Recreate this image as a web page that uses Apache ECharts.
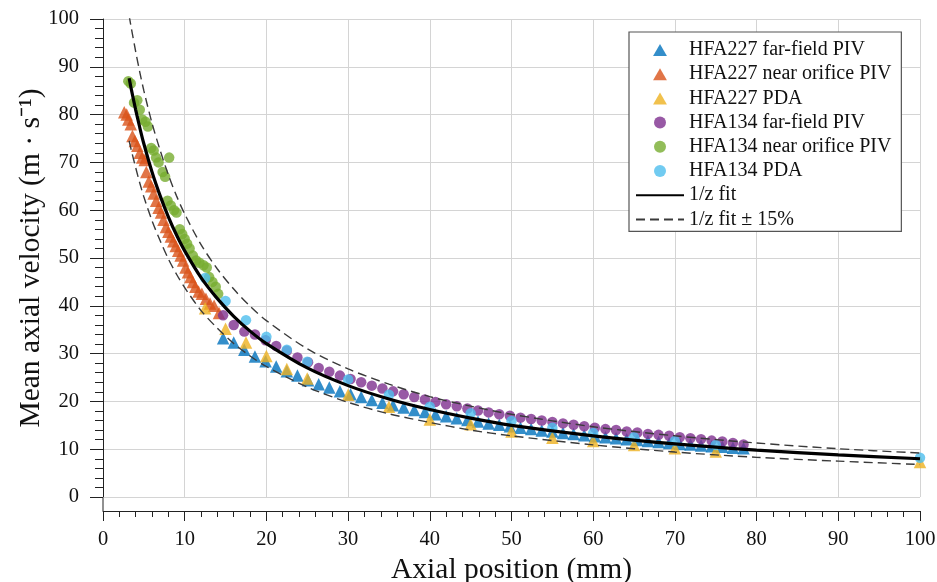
<!DOCTYPE html>
<html>
<head>
<meta charset="utf-8">
<script src="https://cdn.jsdelivr.net/npm/echarts@6/dist/echarts.min.js"></script>
<style>html,body{margin:0;padding:0;background:#fff}#c{width:937px;height:582px}</style>
</head>
<body>
<div id="c"></div>
<script>
// ---- data ----
const xTicks = [0,10,20,30,40,50,60,70,80,90,100];
const yTicks = [0,10,20,30,40,50,60,70,80,90,100];

const seriesNames = ['HFA227 far-field PIV','HFA227 near orifice PIV','HFA227 PDA',
  'HFA134 far-field PIV','HFA134 near orifice PIV','HFA134 PDA','1/z fit','1/z fit \u00b1 15%'];

const hfa227Far = [[14.7,33.2],[16.0,32.3],[17.3,30.8],[18.6,29.4],[19.9,28.4],[21.2,27.3],[22.5,26.3],[23.8,25.4],[25.1,24.4],[26.4,23.6],[27.7,22.9],[29.0,22.1],[30.3,21.5],[31.6,20.9],[32.9,20.3],[34.2,19.7],[35.5,19.2],[36.8,18.7],[38.1,18.2],[39.4,17.8],[40.7,17.3],[42.0,16.9],[43.3,16.5],[44.6,16.1],[45.9,15.8],[47.2,15.4],[48.5,15.1],[49.8,14.8],[51.1,14.5],[52.4,14.2],[53.7,13.9],[55.0,13.7],[56.3,13.4],[57.6,13.2],[58.9,12.9],[60.2,12.7],[61.5,12.5],[62.8,12.3],[64.1,12.1],[65.4,11.9],[66.7,11.7],[68.0,11.5],[69.3,11.3],[70.6,11.1],[71.9,11.0],[73.2,10.8],[74.5,10.6],[75.8,10.5],[77.1,10.3],[78.4,10.2]];

const hfa227Near = [[2.6,80.5],[2.9,80],[3.1,79],[3.4,78],[3.6,75.5],[3.9,74.5],[4.2,73.5],[4.5,72],[4.8,71],[5.1,70.5],[5.3,68],[5.6,66],[5.9,65],[6.2,63.5],[6.5,62],[6.8,60.5],[7.1,59.5],[7.4,58],[7.7,56.5],[8.0,55.5],[8.3,54.5],[8.6,53.5],[8.9,52.5],[9.2,51.5],[9.5,50.5],[9.8,49.5],[10.1,48],[10.4,47],[10.7,46],[11.0,45],[11.3,44],[11.7,43],[12.1,42.5],[12.6,41.5],[13.1,40.5],[13.6,40],[14.2,38.5]];

const hfa227Pda = [[12.5,39.5],[15,35.2],[17.5,32.3],[20,29.5],[22.5,26.8],[25,24.8],[30,21.4],[35,18.9],[40,16.2],[45,15.2],[50,13.7],[55,12.4],[60,11.7],[65,10.9],[70,10.2],[75,9.5],[100,7.3]];

const hfa134Far = [[14.7,38.0],[16.0,36.0],[17.3,34.6],[18.6,34.0],[19.9,32.8],[21.2,31.6],[22.5,30.6],[23.8,29.2],[25.1,28.2],[26.4,27.0],[27.7,26.2],[29.0,25.4],[30.3,24.7],[31.6,24.0],[32.9,23.3],[34.2,22.7],[35.5,22.1],[36.8,21.5],[38.1,20.9],[39.4,20.4],[40.7,19.9],[42.0,19.4],[43.3,19.0],[44.6,18.5],[45.9,18.1],[47.2,17.7],[48.5,17.3],[49.8,17.0],[51.1,16.6],[52.4,16.3],[53.7,16.0],[55.0,15.7],[56.3,15.4],[57.6,15.1],[58.9,14.8],[60.2,14.5],[61.5,14.2],[62.8,14.0],[64.1,13.7],[65.4,13.5],[66.7,13.2],[68.0,13.0],[69.3,12.8],[70.6,12.5],[71.9,12.3],[73.2,12.1],[74.5,11.8],[75.8,11.6],[77.1,11.3],[78.4,11.0]];

const hfa134Near = [[3.1,87],[3.4,86.5],[3.8,82.5],[4.2,83],[4.5,81],[4.8,79],[5.2,78.5],[5.5,77.5],[5.9,73],[6.2,72.5],[6.5,71],[6.8,70],[7.3,68],[7.6,67],[8.1,71],[7.9,62],[8.3,61],[8.7,60],[9.0,59.5],[9.4,56],[9.7,55],[10.0,54],[10.3,53],[10.6,52],[11.0,50.5],[11.4,49.5],[11.8,49],[12.3,48.5],[12.7,48],[13.0,46],[13.4,45],[13.8,44],[14.1,42.5]];

const hfa134Pda = [[12.5,45.8],[15,41.0],[17.5,37.0],[20,33.5],[22.5,30.8],[25,28.3],[30,24.6],[35,21.4],[40,18.9],[45,17.5],[50,15.9],[55,14.5],[60,13.4],[65,12.5],[70,11.7],[75,10.9],[100,8.2]];

const fitZ = [3.2,3.5,4,4.5,5,6,7,8,9,10,12,14,16,18,20,25,30,35,40,45,50,60,70,80,90,100];
const fitV = [87.6,85.0,81.0,77.3,73.9,68.0,63.0,58.6,54.8,51.5,45.9,41.5,37.8,34.7,32.1,27.0,23.3,20.5,18.3,16.5,15.0,12.8,11.1,9.8,8.8,8.0];
const upperV = [100.7,97.8,93.2,88.9,85.0,78.2,72.5,67.4,63.0,59.2,52.8,47.7,43.5,39.9,36.9,31.0,26.8,23.6,21.0,19.0,17.3,14.7,12.8,11.3,10.1,9.2];
const lowerV = [74.5,72.3,68.9,65.7,62.8,57.8,53.6,49.8,46.6,43.8,39.0,35.3,32.1,29.5,27.3,23.0,19.8,17.4,15.6,14.0,12.8,10.9,9.4,8.3,7.5,6.8];

// ---- chart ----
const FONT = 'Liberation Serif';
const colors = ['#0072BD','#D95319','#EDB120','#7E2F8E','#77AC30','#4DBEEE'];
const TRI = 'path://M6,0L12,10.4L0,10.4Z';
const zip = (a,b) => a.map((z,i)=>[z,b[i]]);

function scatter(name, data, color, symbol, size){
  return {name, type:'scatter', data, symbol, symbolSize:size,
    itemStyle:{color}, z:2, emphasis:{disabled:true}};
}

const legendData = seriesNames.map((n,i) => {
  if (i < 3) return {name:n, icon:TRI};
  if (i < 6) return {name:n, icon:'circle'};
  return {name:n, itemStyle:{color:'rgba(0,0,0,0)', borderWidth:0, opacity:0}};
});

const chart = echarts.init(document.getElementById('c'), null, {renderer:'canvas'});
chart.setOption({
  animation:false,
  backgroundColor:'#fff',
  grid:{left:103, right:17, top:19, bottom:85, containLabel:false, outerBoundsMode:'none'},
  xAxis:{type:'value', min:0, max:100, interval:10, offset:14,
    name:'Axial position (mm)', nameLocation:'middle', nameGap:44, nameMoveOverlap:false,
    nameTextStyle:{fontFamily:FONT, fontSize:29.5, color:'#111'},
    axisLine:{show:true, onZero:false, lineStyle:{color:'#222', width:1}},
    axisTick:{show:true, inside:false, length:10, lineStyle:{color:'#222'}},
    minorTick:{show:true, splitNumber:5, length:6, lineStyle:{color:'#222'}},
    axisLabel:{fontFamily:FONT, fontSize:20.5, color:'#111', margin:18},
    splitLine:{show:true, lineStyle:{color:'#d4d4d4', width:1}}
  },
  yAxis:{type:'value', min:0, max:100, interval:10,
    name:'Mean axial velocity (m \u00b7 s\u207b\u00b9)', nameLocation:'middle', nameGap:57, nameMoveOverlap:false,
    nameTextStyle:{fontFamily:FONT, fontSize:29.5, color:'#111'},
    axisLine:{show:true, onZero:false, lineStyle:{color:'#222', width:1}},
    axisTick:{show:true, inside:false, length:13, lineStyle:{color:'#222'}},
    minorTick:{show:true, splitNumber:5, length:8, lineStyle:{color:'#222'}},
    axisLabel:{fontFamily:FONT, fontSize:20.5, color:'#111', margin:24},
    splitLine:{show:true, lineStyle:{color:'#d4d4d4', width:1}}
  },
  legend:{orient:'vertical', left:629, top:32, backgroundColor:'#fff',
    borderColor:'#555', borderWidth:1.2, padding:[8,10,2,6],
    itemWidth:48, itemHeight:12, itemGap:4.2, selectedMode:false, symbolKeepAspect:true,
    textStyle:{fontFamily:FONT, fontSize:20, color:'#111'},
    data:legendData},
  graphic:[{type:'line', shape:{x1:103, y1:497, x2:103, y2:511}, style:{stroke:'#222', lineWidth:1}}],
  series:[
    scatter(seriesNames[0], hfa227Far, colors[0], 'triangle', 12.5),
    scatter(seriesNames[1], hfa227Near, colors[1], 'triangle', 12.5),
    scatter(seriesNames[2], hfa227Pda, colors[2], 'triangle', 12.5),
    scatter(seriesNames[3], hfa134Far, colors[3], 'circle', 10.5),
    scatter(seriesNames[4], hfa134Near, colors[4], 'circle', 10.5),
    scatter(seriesNames[5], hfa134Pda, colors[5], 'circle', 10.5),
    {name:seriesNames[6], type:'line', data:zip(fitZ,fitV), smooth:0.3, symbol:'none', z:4,
      itemStyle:{color:'#000'}, lineStyle:{color:'#000', width:3.2}, emphasis:{disabled:true}},
    {name:seriesNames[7], type:'line', data:zip(fitZ,upperV), smooth:0.3, symbol:'none', z:3,
      itemStyle:{color:'#444'}, lineStyle:{color:'#3a3a3a', width:1.4, type:[9,5]}, emphasis:{disabled:true}},
    {name:seriesNames[7], type:'line', data:zip(fitZ,lowerV), smooth:0.3, symbol:'none', z:3,
      itemStyle:{color:'#444'}, lineStyle:{color:'#3a3a3a', width:1.4, type:[9,5]}, emphasis:{disabled:true}}
  ]
});
</script>
</body>
</html>
